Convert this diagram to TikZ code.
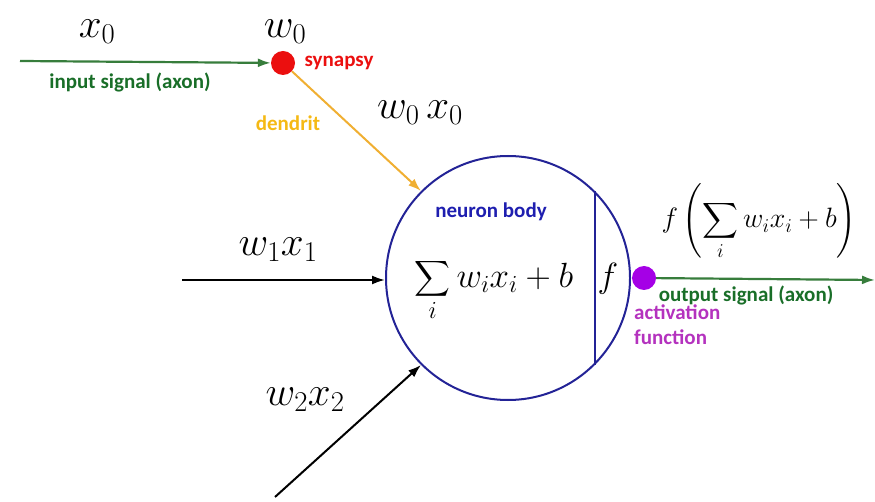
\RequirePackage{fix-cm}
\documentclass[tikz,border=0pt]{standalone}
\usepackage{exscale}
\usepackage{fontspec}
\newfontfamily\labfont{Carlito}
\usetikzlibrary{arrows.meta}
\definecolor{axgreen}{RGB}{25,110,40}
\definecolor{linegreen}{RGB}{55,125,60}
\definecolor{synred}{RGB}{235,15,15}
\definecolor{dendor}{RGB}{240,175,50}
\definecolor{dendtext}{RGB}{245,185,20}
\definecolor{nblue}{RGB}{35,35,150}
\definecolor{nbtext}{RGB}{30,30,175}
\definecolor{actpurple}{RGB}{180,50,190}
\definecolor{dotpurple}{RGB}{165,0,230}
\tikzset{
  bigmath/.style={inner sep=0pt, font=\fontsize{41}{48}\selectfont},
  summath/.style={inner sep=0pt, font=\fontsize{35}{42}\selectfont},
  outmath/.style={inner sep=0pt, font=\fontsize{28}{34}\selectfont},
  lab/.style={inner sep=0pt, font=\labfont\bfseries\fontsize{21}{25}\selectfont},
  sigdot/.style={circle, inner sep=0pt, minimum size=24pt},
  tip/.style={-{Latex[length=13pt,width=9pt]}},
  greenarrow/.style={tip, draw=linegreen, line width=2.2pt},
  blackarrow/.style={tip, draw=black, line width=2pt},
  orangearrow/.style={tip, draw=dendor, line width=2pt},
}
\begin{document}
\begin{tikzpicture}[x=1pt,y=-1pt]
\useasboundingbox (0,0) rectangle (875,502);
% neuron body
\node[circle, draw=nblue, line width=2pt, minimum size=244pt, inner sep=0pt] (body) at (508,278) {};
\draw[nblue, line width=2pt] (body.45) -- (body.-45);
% synapse and activation dots
\node[sigdot, fill=synred] (syn) at (283,63) {};
\node[sigdot, fill=dotpurple] (act) at (644,278) {};
% connectors
\coordinate (inStart) at (20,61);
\coordinate (outEnd) at (875,280);
\coordinate (w1s) at (182,280);
\coordinate (w2s) at (275,497);
\draw[greenarrow] (inStart) -- (syn);
\draw[orangearrow] (syn) -- (body.135);
\draw[blackarrow] (w1s) -- (w1s -| body.west);
\draw[blackarrow] (w2s) -- (body.225);
\draw[greenarrow] (act) -- (outEnd);
% math labels
\node[bigmath] (lx0) at (97,32) {$x_0$};
\node[bigmath] (lw0) at (285,32) {$w_0$};
\node[bigmath] (lw0x0) at (420,113) {$w_0\,x_0$};
\node[bigmath] (lw1x1) at (278,250) {$w_1x_1$};
\node[bigmath] (lw2x2) at (305,400) {$w_2x_2$};
\node[summath] (lsum) at (494,290) {$\displaystyle\sum_i w_ix_i+b$};
\node[summath] (lf) at (608,279) {$f$};
\node[outmath] (lfout) at (759,222) {$f\left(\displaystyle\sum_i w_ix_i+b\right)$};
% text labels
\node[lab, text=axgreen] (lin) at (130,82) {input signal (axon)};
\node[lab, text=synred] (lsyn) at (339,63) {synapsy};
\node[lab, text=dendtext] (lden) at (288,123) {dendrit};
\node[lab, text=nbtext] (lnb) at (491,212) {neuron body};
\node[lab, text=axgreen] (lout) at (746,295) {output signal (axon)};
\node[lab, text=actpurple, align=left, anchor=west] (lact) at (634,325) {activation\\function};
\end{tikzpicture}
\end{document}
